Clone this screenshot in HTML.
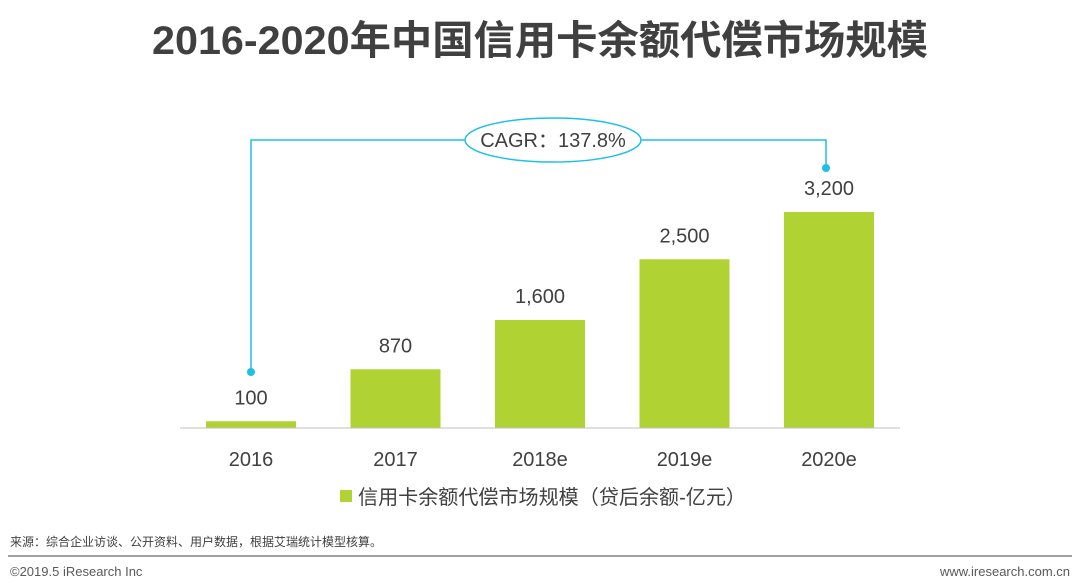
<!DOCTYPE html>
<html><head><meta charset="utf-8"><style>
body{margin:0;background:#fff;width:1080px;height:587px;overflow:hidden;font-family:"Liberation Sans","Noto Sans CJK SC",sans-serif;}
</style></head><body>
<svg width="1080" height="587" style="position:absolute;left:0;top:0">
<text x="540" y="54" text-anchor="middle" font-size="40" font-weight="bold" fill="#404040" textLength="776" lengthAdjust="spacingAndGlyphs" font-family="Liberation Sans, Noto Sans CJK SC, sans-serif">2016-2020年中国信用卡余额代偿市场规模</text>
<g id="bars"></g>
<line x1="180" y1="428" x2="900" y2="428" stroke="#bfbfbf" stroke-width="1"/>
<g>
<polyline points="251,372 251,140 465,140" fill="none" stroke="#1fbfe6" stroke-width="1.5"/>
<polyline points="641,140 826,140 826,168" fill="none" stroke="#1fbfe6" stroke-width="1.5"/>
<circle cx="251" cy="372" r="4" fill="#1fbfe6"/>
<circle cx="826" cy="168" r="4" fill="#1fbfe6"/>
<ellipse cx="553" cy="140" rx="88" ry="22" fill="#fff" stroke="#1fbfe6" stroke-width="1.5"/>
<text x="553" y="147" text-anchor="middle" font-size="20" fill="#404040">CAGR：137.8%</text>
</g>
<g>
<rect x="340" y="490" width="12" height="12" fill="#b0d232"/>
<text x="358" y="504" font-size="20" fill="#404040" textLength="388" lengthAdjust="spacingAndGlyphs">信用卡余额代偿市场规模（贷后余额-亿元）</text>
</g>
<text x="10" y="546" font-size="12" fill="#404040">来源：综合企业访谈、公开资料、用户数据，根据艾瑞统计模型核算。</text>
<line x1="8" y1="556" x2="1072" y2="556" stroke="#808080" stroke-width="1.5"/>
<text x="10" y="576" font-size="13" fill="#595959">©2019.5 iResearch Inc</text>
<text x="1070" y="576" text-anchor="end" font-size="13" fill="#595959">www.iresearch.com.cn</text>
</svg>
<script>
const categories=["2016","2017","2018e","2019e","2020e"];
const values=[100,870,1600,2500,3200];
const valueLabels=["100","870","1,600","2,500","3,200"];
const base=428,scale=216/3200;
function y(v){return base-v*scale;}
function x(i){return 206+i*144.5;}
const g=document.getElementById('bars');const ns="http://www.w3.org/2000/svg";
categories.forEach((c,i)=>{
 const r=document.createElementNS(ns,'rect');
 r.setAttribute('x',x(i));r.setAttribute('y',y(values[i]));r.setAttribute('width',90);r.setAttribute('height',base-y(values[i]));r.setAttribute('fill','#b0d232');
 
 
 g.appendChild(r);
 const t=document.createElementNS(ns,'text');
 t.setAttribute('x',x(i)+45);t.setAttribute('y',y(values[i])-17);t.setAttribute('text-anchor','middle');t.setAttribute('font-size','20');t.setAttribute('fill','#404040');t.textContent=valueLabels[i];
 
 
 g.appendChild(t);
 const l=document.createElementNS(ns,'text');
 l.setAttribute('x',x(i)+45);l.setAttribute('y',466);l.setAttribute('text-anchor','middle');l.setAttribute('font-size','20');l.setAttribute('fill','#404040');l.textContent=c;
 
 
 g.appendChild(l);
});
</script>
</body></html>
